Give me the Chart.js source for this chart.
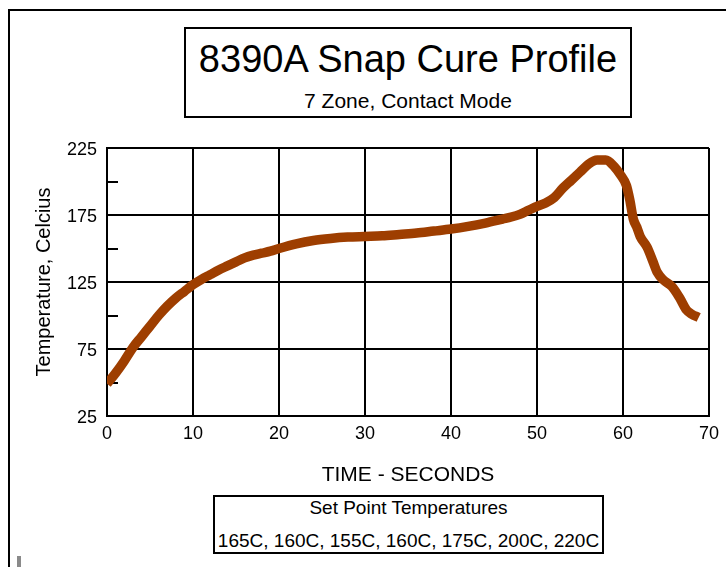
<!DOCTYPE html>
<html><head><meta charset="utf-8">
<script src="https://cdn.jsdelivr.net/npm/chart.js@4"></script>
<style>
html,body{margin:0;padding:0;background:#fff;}
#wrap{position:relative;width:726px;height:567px;overflow:hidden;font-family:"Liberation Sans",Arial,sans-serif;color:#000;}
canvas{position:absolute;left:0;top:0;}
.frame{position:absolute;left:8px;top:9px;width:740px;height:620px;border-left:2px solid #000;border-top:2px solid #000;}
.mark{position:absolute;left:17px;top:556px;width:4px;height:11px;background:#8a8a8a;}
.box{position:absolute;border:2px solid #000;box-sizing:border-box;background:#fff;}
.t{position:absolute;left:0;right:0;text-align:center;white-space:nowrap;}
</style></head>
<body><div id="wrap">
<div class="frame"></div>
<div class="mark"></div>
<canvas id="c" width="726" height="567"></canvas>
<div class="box" style="left:184px;top:27px;width:448px;height:91px;">
  <div class="t" style="font-size:38px;line-height:38px;top:11px;">8390A Snap Cure Profile</div>
  <div class="t" style="font-size:21px;line-height:21px;top:61px;">7 Zone, Contact Mode</div>
</div>
<div class="box" style="left:213px;top:495px;width:391px;height:59px;">
  <div class="t" style="font-size:19px;line-height:19px;top:1px;">Set Point Temperatures</div>
  <div class="t" style="font-size:19px;line-height:19px;top:34px;">165C, 160C, 155C, 160C, 175C, 200C, 220C</div>
</div>
</div>
<script>
const timeSeconds = [0, 1, 2, 3, 4, 5, 6, 7, 8, 9, 10, 11, 12, 13, 14, 15, 16, 17, 18, 19, 20, 22, 24, 26, 28, 30, 32, 34, 36, 38, 40, 42, 44, 46, 47, 48, 49, 50, 51, 52, 53, 54, 55, 56, 57, 58, 59, 59.7, 60.4, 60.8, 61.2, 61.6, 62, 62.8, 63.5, 64, 64.7, 65.7, 66.6, 67.4, 68, 68.8];
const temperatureC = [49, 57, 66, 76, 84, 92, 100, 107, 113, 118, 123, 127, 130.5, 134, 137, 140, 143, 145, 146.5, 148, 150, 153.5, 156, 157.5, 158.5, 159, 159.5, 160.5, 161.5, 163, 164.5, 166.5, 169, 172, 173.5, 175.5, 178.5, 181.5, 184, 188, 195, 201, 207, 213, 216, 216, 211, 205, 197, 186, 172, 166, 159, 151, 140, 132, 126.5, 121.5, 113, 104, 101, 98.5];
const xTicks = [0, 10, 20, 30, 40, 50, 60, 70];
const yMajorTicks = [25, 75, 125, 175, 225];
const yMinorTicks = [50, 100, 150, 200];

const FONT = '"Liberation Sans", Arial, sans-serif';

const minorTickPlugin = {
  id: 'minorTicks',
  beforeDatasetsDraw(chart) {
    const ys = chart.scales.y, ca = chart.chartArea, ctx = chart.ctx;
    ctx.save();
    ctx.strokeStyle = '#000';
    ctx.lineWidth = 2;
    yMinorTicks.forEach(v => {
      const py = Math.round(ys.getPixelForValue(v));
      ctx.beginPath();
      ctx.moveTo(ca.left, py);
      ctx.lineTo(ca.left + 11, py);
      ctx.stroke();
    });
    ctx.restore();
  }
};

new Chart(document.getElementById('c'), {
  type: 'line',
  data: {
    datasets: [{
      data: timeSeconds.map((t, i) => ({x: t, y: temperatureC[i]})),
      borderColor: '#9E3E00',
      borderWidth: 9.5,
      pointRadius: 0,
      cubicInterpolationMode: 'monotone',
      fill: false
    }]
  },
  options: {
    responsive: false,
    animation: false,
    events: [],
    layout: {padding: {left: 0, top: 148, right: 17, bottom: 0}},
    plugins: {legend: {display: false}, tooltip: {enabled: false}, title: {display: false}},
    scales: {
      x: {
        type: 'linear', min: 0, max: 70,
        afterFit(s) { s.height = 151; },
        afterBuildTicks(s) { s.ticks = xTicks.map(v => ({value: v})); },
        ticks: {color: '#000', font: {family: FONT, size: 18}, padding: 7, maxRotation: 0, autoSkip: false},
        grid: {color: '#000', lineWidth: 2, drawTicks: false},
        border: {color: '#000', width: 2},
        title: {display: true, text: 'TIME - SECONDS', color: '#000', font: {family: FONT, size: 21}, padding: {top: 0, bottom: 79}}
      },
      y: {
        type: 'linear', min: 25, max: 225,
        afterFit(s) { s.width = 107; },
        afterBuildTicks(s) { s.ticks = yMajorTicks.map(v => ({value: v})); },
        ticks: {color: '#000', font: {family: FONT, size: 18}, padding: 10, labelOffset: 2, autoSkip: false},
        grid: {color: '#000', lineWidth: 2, drawTicks: false},
        border: {color: '#000', width: 2},
        title: {display: true, text: 'Temperature, Celcius', color: '#000', font: {family: FONT, size: 20}, padding: {top: 32, bottom: 0}}
      }
    }
  },
  plugins: [minorTickPlugin]
});
</script>
</body></html>
